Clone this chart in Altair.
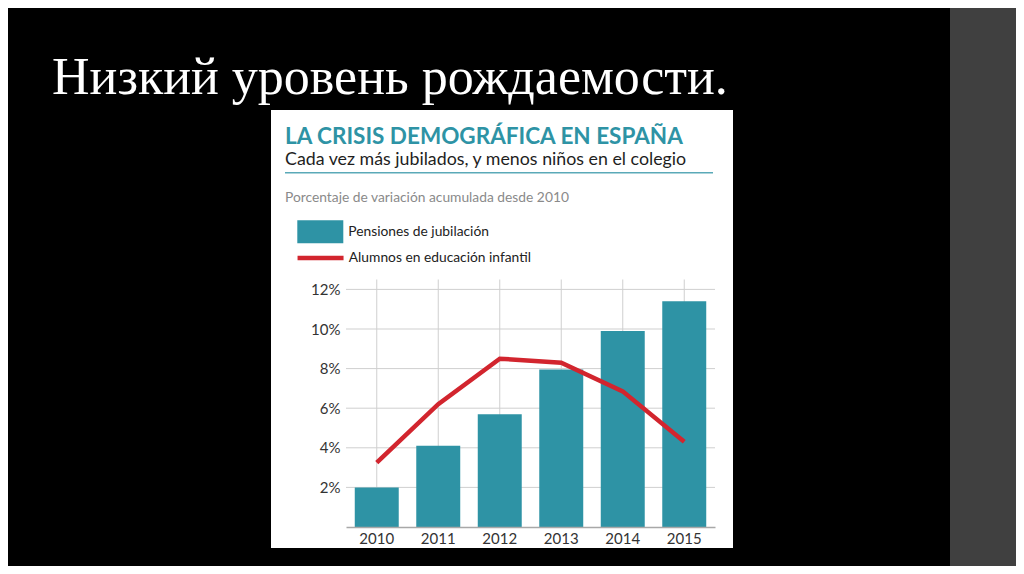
import altair as alt
import pandas as pd

# ---- data ----
years = ["2010", "2011", "2012", "2013", "2014", "2015"]
pensiones = [2.0, 4.1, 5.7, 7.95, 9.9, 11.4]
alumnos = [3.25, 6.2, 8.5, 8.3, 6.85, 4.3]
y_ticks = [2, 4, 6, 8, 10, 12]

slide_title = "Низкий уровень рождаемости."
head_title = "LA CRISIS DEMOGRÁFICA EN ESPAÑA"
head_sub = "Cada vez más jubilados, y menos niños en el colegio"
caption = "Porcentaje de variación acumulada desde 2010"
lab_bar = "Pensiones de jubilación"
lab_line = "Alumnos en educación infantil"

TEAL = "#2e93a5"
RED = "#d2252e"
FONT = "Lato"

df = pd.DataFrame({"year": years, "pens": pensiones, "alum": alumnos,
                   "sb": [lab_bar] * 6, "sl": [lab_line] * 6})
df_ticks = pd.DataFrame({"pens": y_ticks})
one = pd.DataFrame({"k": [0]})

xscale = alt.Scale(domain=years, paddingInner=0.285, paddingOuter=0.1425)
yscale = alt.Scale(domain=[0, 12.5], nice=False, zero=True)

xaxis = alt.Axis(title=None, labelFont=FONT, labelFontSize=15, labelColor="#333333",
                 labelAngle=0, ticks=False, labelPadding=4, domain=True,
                 domainColor="#a8a8a8", domainWidth=1.5, grid=False, zindex=1)
yaxis = alt.Axis(title=None, values=y_ticks, labelExpr="datum.value + '%'",
                 labelFont=FONT, labelFontSize=15, labelColor="#333333",
                 ticks=False, labelPadding=6, domain=False, grid=False, zindex=1)

X = lambda: alt.X("year:N", scale=xscale, axis=xaxis)
Y = lambda f="pens": alt.Y(f"{f}:Q", scale=yscale, axis=yaxis)

# ---- decorative background pieces ----
strip = alt.Chart(one).mark_rect(color="#404040").encode(
    x=alt.value(604), x2=alt.value(680), y=alt.value(-280), y2=alt.value(300))
panel = alt.Chart(one).mark_rect(color="#ffffff").encode(
    x=alt.value(-75), x2=alt.value(387), y=alt.value(-169.5), y2=alt.value(268.5))

def txt(s, x, y, size, color, weight="normal", font=FONT):
    return alt.Chart(one).mark_text(text=s, align="left", baseline="alphabetic",
                                    font=font, fontSize=size, color=color,
                                    fontWeight=weight).encode(
        x=alt.value(x), y=alt.value(y))

t_slide = txt(slide_title, -294, -186, 52, "#ffffff", font="Liberation Serif")
t_head = txt(head_title, -61, -135.5, 22.5, TEAL, weight="bold")
t_sub = txt(head_sub, -61, -114.5, 17.8, "#1e1e1e")
t_cap = txt(caption, -61, -78, 13.8, "#8a8a8a")
hrule = alt.Chart(one).mark_rule(color="#5aa9b8", strokeWidth=1.5).encode(
    x=alt.value(-61), x2=alt.value(367), y=alt.value(-106.8))

# ---- grid lines through the scales ----
hgrid = alt.Chart(df_ticks).mark_rule(color="#cfcfcf", strokeWidth=1).encode(y=Y())
vgrid = alt.Chart(df).mark_rule(color="#cfcfcf", strokeWidth=1).encode(x=X())

# ---- data marks ----
bars = alt.Chart(df).mark_bar().encode(
    x=X(), y=Y(),
    fill=alt.Fill("sb:N", scale=alt.Scale(domain=[lab_bar], range=[TEAL]),
                  legend=alt.Legend(title=None, orient="none", legendX=-48.7, legendY=-70.8,
                                    symbolType="M-1,-0.5H1V0.5H-1Z", symbolSize=2116,
                                    symbolStrokeWidth=0, symbolOpacity=1, padding=0,
                                    labelFont=FONT, labelFontSize=13.8, labelColor="#222222",
                                    labelOffset=5, labelLimit=0)),
)
line = alt.Chart(df).mark_line(strokeWidth=4.5).encode(
    x=X(), y=Y("alum"),
    stroke=alt.Stroke("sl:N", scale=alt.Scale(domain=[lab_line], range=[RED]),
                      legend=alt.Legend(title=None, orient="none", legendX=-50.95, legendY=-47,
                                        symbolType="stroke", symbolSize=2116,
                                        symbolStrokeWidth=4.5, padding=0,
                                        labelFont=FONT, labelFontSize=13.8, labelColor="#222222",
                                        labelOffset=2.75, labelLimit=0)),
)

chart = alt.layer(strip, panel, t_slide, t_head, t_sub, t_cap, hrule,
                  hgrid, vgrid, bars, line).resolve_scale(fill="independent", stroke="independent").properties(
    width=369, height=247.5,
    padding={"left": 338, "top": 271.5, "right": 301, "bottom": 39},
    autosize=alt.AutoSizeParams(type="none"),
    background="#000000",
).configure_view(stroke=None)

chart.save("out.html", embed_options={"renderer": "svg", "actions": False})
